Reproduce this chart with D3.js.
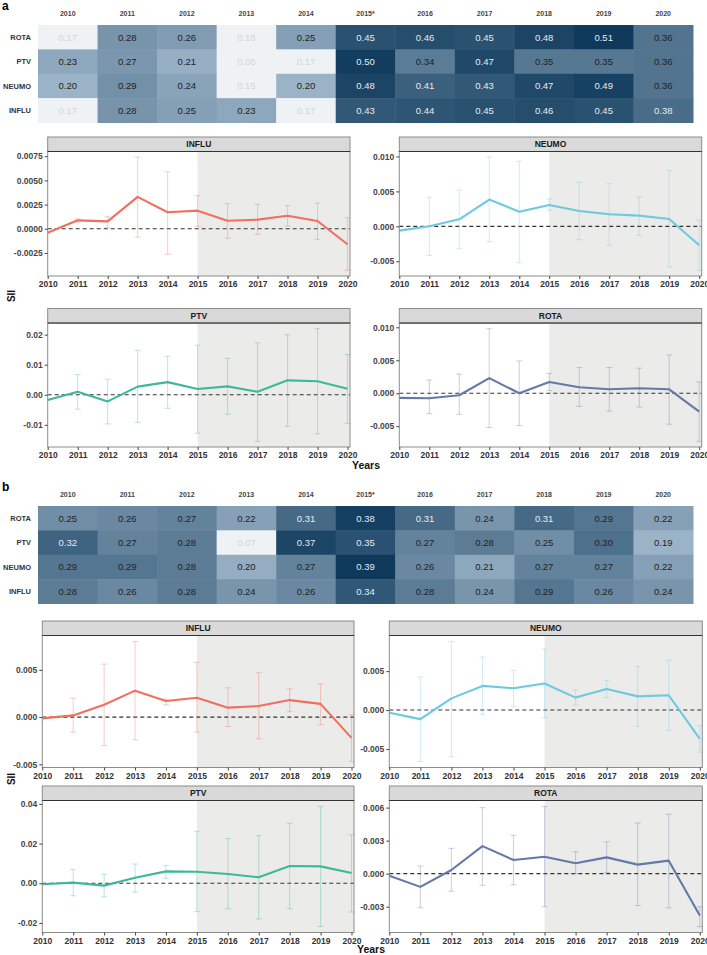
<!DOCTYPE html>
<html><head><meta charset="utf-8">
<script src="https://cdn.jsdelivr.net/npm/d3@7"></script>
<style>body{margin:0;background:#fff;} svg{display:block;font-family:"Liberation Sans",Arial,sans-serif;}</style>
</head><body><svg id="c" width="707" height="955"></svg>
<script>
// ---------- DATA ----------
const years = [2010,2011,2012,2013,2014,2015,2016,2017,2018,2019,2020];
const heatYearLabels = ["2010","2011","2012","2013","2014","2015*","2016","2017","2018","2019","2020"];
const vaccines = ["ROTA","PTV","NEUMO","INFLU"];

const heatA_ROTA  = [0.17,0.28,0.26,0.18,0.25,0.45,0.46,0.45,0.48,0.51,0.36];
const heatA_PTV   = [0.23,0.27,0.21,0.06,0.17,0.50,0.34,0.47,0.35,0.35,0.36];
const heatA_NEUMO = [0.20,0.29,0.24,0.15,0.20,0.48,0.41,0.43,0.47,0.49,0.36];
const heatA_INFLU = [0.17,0.28,0.25,0.23,0.17,0.43,0.44,0.45,0.46,0.45,0.38];

const heatB_ROTA  = [0.25,0.26,0.27,0.22,0.31,0.38,0.31,0.24,0.31,0.29,0.22];
const heatB_PTV   = [0.32,0.27,0.28,0.07,0.37,0.35,0.27,0.28,0.25,0.30,0.19];
const heatB_NEUMO = [0.29,0.29,0.28,0.20,0.27,0.39,0.26,0.21,0.27,0.27,0.22];
const heatB_INFLU = [0.28,0.26,0.28,0.24,0.26,0.34,0.28,0.24,0.29,0.26,0.24];

// Panel a series (SII, lower CI, upper CI)
const a_INFLU_sii = [-0.00042,0.00087,0.00076,0.0033,0.0017,0.00187,0.00083,0.00094,0.00135,0.0008,-0.0016];
const a_INFLU_lo  = [null,0.0007,0.00014,-0.00087,-0.00264,0.00024,-0.00097,-0.00059,0.00031,-0.0011,-0.0043];
const a_INFLU_hi  = [null,0.00104,0.00125,0.0074,0.0059,0.00344,0.0026,0.00253,0.0024,0.00264,0.00115];

const a_NEUMO_sii = [-0.00062,0.0,0.001,0.00383,0.0021,0.00306,0.0022,0.00172,0.00153,0.00105,-0.0027];
const a_NEUMO_lo  = [null,-0.00416,-0.0032,-0.0022,-0.0052,0.0023,-0.0019,-0.0027,-0.0013,-0.0058,-0.0063];
const a_NEUMO_hi  = [null,0.00416,0.0052,0.0099,0.0093,0.0039,0.0063,0.0061,0.0042,0.0080,0.00086];

const a_PTV_sii = [-0.00175,0.001,-0.0022,0.0027,0.0042,0.0019,0.0028,0.001,0.0048,0.0045,0.002];
const a_PTV_lo  = [null,-0.0048,-0.0097,-0.0092,-0.0045,-0.0128,-0.0065,-0.0155,-0.0105,-0.013,-0.0095];
const a_PTV_hi  = [null,0.0067,0.0052,0.0148,0.0128,0.0165,0.0121,0.0173,0.020,0.022,0.0134];

const a_ROTA_sii = [-0.0007,-0.00076,-0.0003,0.0023,0.0,0.0017,0.0009,0.0006,0.00076,0.0006,-0.0028];
const a_ROTA_lo  = [null,-0.0031,-0.0032,-0.0052,-0.0049,0.0004,-0.002,-0.0027,-0.0021,-0.0047,-0.0073];
const a_ROTA_hi  = [null,0.002,0.0029,0.0098,0.0049,0.003,0.0039,0.0039,0.0038,0.0058,0.0017];

// Panel b series
const b_INFLU_sii = [-0.00014,0.00018,0.0013,0.0028,0.0017,0.00205,0.001,0.00117,0.0018,0.0014,-0.0022];
const b_INFLU_lo  = [null,-0.0016,-0.003,-0.0024,0.0013,-0.0016,-0.001,-0.0023,0.00057,-0.0008,-0.0047];
const b_INFLU_hi  = [null,0.002,0.0056,0.008,0.0019,0.0058,0.0031,0.0047,0.003,0.0035,0.00025];

const b_NEUMO_sii = [-0.00034,-0.00116,0.0015,0.0031,0.0028,0.0034,0.0016,0.0027,0.00176,0.0019,-0.0037];
const b_NEUMO_lo  = [null,-0.0066,-0.006,-0.00056,0.00047,-0.001,0.00064,0.0016,-0.0021,-0.0026,-0.0054];
const b_NEUMO_hi  = [null,0.00425,0.0088,0.0068,0.0051,0.0078,0.0026,0.0038,0.0056,0.0064,-0.002];

const b_PTV_sii = [-0.0005,0.0003,-0.0012,0.0028,0.006,0.0058,0.0047,0.003,0.0087,0.0085,0.0052];
const b_PTV_lo  = [null,-0.0063,-0.0068,-0.0045,0.0025,-0.0143,-0.0128,-0.018,-0.0128,-0.0218,-0.0145];
const b_PTV_hi  = [null,0.007,0.0045,0.0097,0.009,0.0262,0.0225,0.024,0.0302,0.0387,0.0245];

const b_ROTA_sii = [-0.0002,-0.0012,0.00033,0.0025,0.00124,0.00154,0.00094,0.00148,0.00082,0.00118,-0.0038];
const b_ROTA_lo  = [null,-0.0031,-0.0016,-0.00106,-0.001,-0.003,0.0,0.0001,-0.0029,-0.0031,-0.0048];
const b_ROTA_hi  = [null,0.0007,0.0023,0.006,0.00348,0.0061,0.002,0.0029,0.0046,0.0054,-0.003];

// Tick values / labels
const a_INFLU_ticks = [-0.0025,0,0.0025,0.005,0.0075];
const a_INFLU_tickLabels = ["-0.0025","0.0000","0.0025","0.0050","0.0075"];
const a_NEUMO_ticks = [-0.005,0,0.005,0.01];
const a_NEUMO_tickLabels = ["-0.005","0.000","0.005","0.010"];
const a_PTV_ticks = [-0.01,0,0.01,0.02];
const a_PTV_tickLabels = ["-0.01","0.00","0.01","0.02"];
const a_ROTA_ticks = [-0.005,0,0.005,0.01];
const a_ROTA_tickLabels = ["-0.005","0.000","0.005","0.010"];
const b_INFLU_ticks = [-0.005,0,0.005];
const b_INFLU_tickLabels = ["-0.005","0.000","0.005"];
const b_NEUMO_ticks = [-0.005,0,0.005];
const b_NEUMO_tickLabels = ["-0.005","0.000","0.005"];
const b_PTV_ticks = [-0.02,0,0.02,0.04];
const b_PTV_tickLabels = ["-0.02","0.00","0.02","0.04"];
const b_ROTA_ticks = [-0.003,0,0.003,0.006];
const b_ROTA_tickLabels = ["-0.003","0.000","0.003","0.006"];

// ---------- STYLE ----------
const colors = {INFLU:"#F0705F", NEUMO:"#6CC9E0", PTV:"#3DB89B", ROTA:"#6479A6"};
const svg = d3.select("#c");

// ---------- HEATMAPS ----------
function heatmap(rowsData, top, labelY, threshold) {
  const g = svg.append("g");
  const x = d3.scaleBand().domain(heatYearLabels).range([38, 693]);
  const y = d3.scaleBand().domain(vaccines).range([top, top + 97.5]);
  const all = rowsData.flat().filter(v => v > threshold);
  const mn = d3.min(all), mx = d3.max(all);
  const col = d3.scaleLinear().domain([mn, mx]).range(["#9BB3C7", "#0E395B"]).interpolate(d3.interpolateRgb);
  vaccines.forEach((v, r) => {
    rowsData[r].forEach((val, c) => {
      const low = val <= threshold;
      const t = (val - mn) / (mx - mn);
      g.append("rect").attr("x", x(heatYearLabels[c])).attr("y", y(v))
        .attr("width", x.bandwidth() + 0.5).attr("height", y.bandwidth() + 0.5)
        .attr("fill", low ? "#EFF2F4" : col(val));
      g.append("text").attr("x", x(heatYearLabels[c]) + x.bandwidth()/2)
        .attr("y", y(v) + y.bandwidth()/2).attr("dy", "0.35em")
        .attr("text-anchor", "middle").attr("font-size", 9.5)
        .attr("fill", low ? "#D2D6D9" : (t > 0.58 ? "#E6EAEE" : "#222"))
        .text(val.toFixed(2));
    });
    g.append("text").attr("x", 31).attr("y", y(v) + y.bandwidth()/2).attr("dy", "0.35em")
      .attr("text-anchor", "end").attr("font-size", 7.5).attr("font-weight", "bold")
      .attr("fill", "#333").text(v);
  });
  heatYearLabels.forEach(l => {
    g.append("text").attr("x", x(l) + x.bandwidth()/2).attr("y", labelY).attr("dy", "0.35em")
      .attr("text-anchor", "middle").attr("font-size", 7).attr("font-weight", "bold")
      .attr("fill", "#444").text(l);
  });
}
heatmap([heatA_ROTA, heatA_PTV, heatA_NEUMO, heatA_INFLU], 25, 14, 0.185);
heatmap([heatB_ROTA, heatB_PTV, heatB_NEUMO, heatB_INFLU], 506, 495, 0.185);

// ---------- FACET PANELS ----------
function panel(cfg) {
  const g = svg.append("g");
  const stripH = 14.5;
  const pTop = cfg.top + stripH;
  const x = d3.scaleLinear().domain([2010, 2020]).range([cfg.left, cfg.right - 2.5]);
  const allV = cfg.sii.concat(cfg.lo.filter(v => v != null), cfg.hi.filter(v => v != null));
  const mn = d3.min(allV), mx = d3.max(allV), pad = (mx - mn) * 0.05;
  const y = d3.scaleLinear().domain([mn - pad, mx + pad]).range([cfg.bottom, pTop]);

  g.append("rect").attr("x", cfg.left).attr("y", pTop).attr("width", cfg.right - cfg.left)
    .attr("height", cfg.bottom - pTop).attr("fill", "#fff");
  g.append("rect").attr("x", x(2015)).attr("y", pTop).attr("width", cfg.right - x(2015))
    .attr("height", cfg.bottom - pTop).attr("fill", "#EBEBEA");
  g.append("line").attr("x1", cfg.left).attr("x2", cfg.right).attr("y1", y(0)).attr("y2", y(0))
    .attr("stroke", "#333").attr("stroke-width", 1.1).attr("stroke-dasharray", "4,3");

  const eb = g.append("g").attr("stroke", cfg.color).attr("stroke-opacity", 0.32).attr("stroke-width", 1.1);
  years.forEach((yr, i) => {
    if (cfg.lo[i] == null) return;
    const xx = x(yr);
    eb.append("line").attr("x1", xx).attr("x2", xx).attr("y1", y(cfg.lo[i])).attr("y2", y(cfg.hi[i]));
    eb.append("line").attr("x1", xx - 3).attr("x2", xx + 3).attr("y1", y(cfg.lo[i])).attr("y2", y(cfg.lo[i]));
    eb.append("line").attr("x1", xx - 3).attr("x2", xx + 3).attr("y1", y(cfg.hi[i])).attr("y2", y(cfg.hi[i]));
  });
  const line = d3.line().x((d, i) => x(years[i])).y(d => y(d));
  g.append("path").datum(cfg.sii).attr("d", line).attr("fill", "none")
    .attr("stroke", cfg.color).attr("stroke-width", 2.1).attr("stroke-linejoin", "round");

  g.append("rect").attr("x", cfg.left).attr("y", pTop).attr("width", cfg.right - cfg.left)
    .attr("height", cfg.bottom - pTop).attr("fill", "none").attr("stroke", "#8C8C8C").attr("stroke-width", 1);
  g.append("rect").attr("x", cfg.left).attr("y", cfg.top).attr("width", cfg.right - cfg.left)
    .attr("height", stripH).attr("fill", "#D9D9D9").attr("stroke", "#8C8C8C").attr("stroke-width", 1);
  g.append("line").attr("x1", cfg.left).attr("x2", cfg.right).attr("y1", pTop).attr("y2", pTop)
    .attr("stroke", "#333").attr("stroke-width", 1);
  g.append("text").attr("x", (cfg.left + cfg.right) / 2).attr("y", cfg.top + stripH / 2).attr("dy", "0.35em")
    .attr("text-anchor", "middle").attr("font-size", 8.5).attr("font-weight", "bold").attr("fill", "#1a1a1a")
    .text(cfg.name);

  const ya = g.append("g").attr("transform", `translate(${cfg.left},0)`)
    .call(d3.axisLeft(y).tickValues(cfg.ticks).tickFormat((d, i) => cfg.tickLabels[i]).tickSize(3).tickPadding(2));
  ya.select(".domain").remove();
  ya.selectAll("line").attr("stroke", "#444");
  ya.selectAll("text").attr("font-size", 8.5).attr("font-weight", "bold").attr("fill", "#444")
    .attr("font-family", "Liberation Sans, Arial, sans-serif");

  const xa = g.append("g").attr("transform", `translate(0,${cfg.bottom})`)
    .call(d3.axisBottom(x).tickValues(years).tickFormat(d3.format("d")).tickSize(3).tickPadding(2));
  xa.select(".domain").remove();
  xa.selectAll("line").attr("stroke", "#444");
  xa.selectAll("text").attr("font-size", 8.5).attr("font-weight", "bold").attr("fill", "#333")
    .attr("font-family", "Liberation Sans, Arial, sans-serif");
}

// section a
panel({name:"INFLU", color:colors.INFLU, left:47.7, right:350, top:137, bottom:276,
  sii:a_INFLU_sii, lo:a_INFLU_lo, hi:a_INFLU_hi, ticks:a_INFLU_ticks, tickLabels:a_INFLU_tickLabels});
panel({name:"NEUMO", color:colors.NEUMO, left:399.3, right:701.7, top:137, bottom:276,
  sii:a_NEUMO_sii, lo:a_NEUMO_lo, hi:a_NEUMO_hi, ticks:a_NEUMO_ticks, tickLabels:a_NEUMO_tickLabels});
panel({name:"PTV", color:colors.PTV, left:47.7, right:350, top:308.5, bottom:447,
  sii:a_PTV_sii, lo:a_PTV_lo, hi:a_PTV_hi, ticks:a_PTV_ticks, tickLabels:a_PTV_tickLabels});
panel({name:"ROTA", color:colors.ROTA, left:399.3, right:701.7, top:308.5, bottom:447,
  sii:a_ROTA_sii, lo:a_ROTA_lo, hi:a_ROTA_hi, ticks:a_ROTA_ticks, tickLabels:a_ROTA_tickLabels});
// section b
panel({name:"INFLU", color:colors.INFLU, left:42.3, right:354, top:621, bottom:767.5,
  sii:b_INFLU_sii, lo:b_INFLU_lo, hi:b_INFLU_hi, ticks:b_INFLU_ticks, tickLabels:b_INFLU_tickLabels});
panel({name:"NEUMO", color:colors.NEUMO, left:389.3, right:702.3, top:621, bottom:767.5,
  sii:b_NEUMO_sii, lo:b_NEUMO_lo, hi:b_NEUMO_hi, ticks:b_NEUMO_ticks, tickLabels:b_NEUMO_tickLabels});
panel({name:"PTV", color:colors.PTV, left:42.3, right:354, top:786, bottom:932.5,
  sii:b_PTV_sii, lo:b_PTV_lo, hi:b_PTV_hi, ticks:b_PTV_ticks, tickLabels:b_PTV_tickLabels});
panel({name:"ROTA", color:colors.ROTA, left:389.3, right:702.3, top:786, bottom:932.5,
  sii:b_ROTA_sii, lo:b_ROTA_lo, hi:b_ROTA_hi, ticks:b_ROTA_ticks, tickLabels:b_ROTA_tickLabels});

// ---------- LABELS ----------
svg.append("text").attr("x", 2).attr("y", 10).attr("font-size", 12).attr("font-weight", "bold").text("a");
svg.append("text").attr("x", 2).attr("y", 491).attr("font-size", 12).attr("font-weight", "bold").text("b");
[[296, "a"], [779, "b"]].forEach(([yy]) => {
  svg.append("text").attr("transform", `translate(15,${yy}) rotate(-90)`).attr("text-anchor", "middle")
    .attr("font-size", 10).attr("font-weight", "bold").attr("fill", "#111").text("SII");
});
svg.append("text").attr("x", 366).attr("y", 469).attr("text-anchor", "middle")
  .attr("font-size", 10.5).attr("font-weight", "bold").attr("fill", "#111").text("Years");
svg.append("text").attr("x", 371).attr("y", 953).attr("text-anchor", "middle")
  .attr("font-size", 10.5).attr("font-weight", "bold").attr("fill", "#111").text("Years");
</script></body></html>
